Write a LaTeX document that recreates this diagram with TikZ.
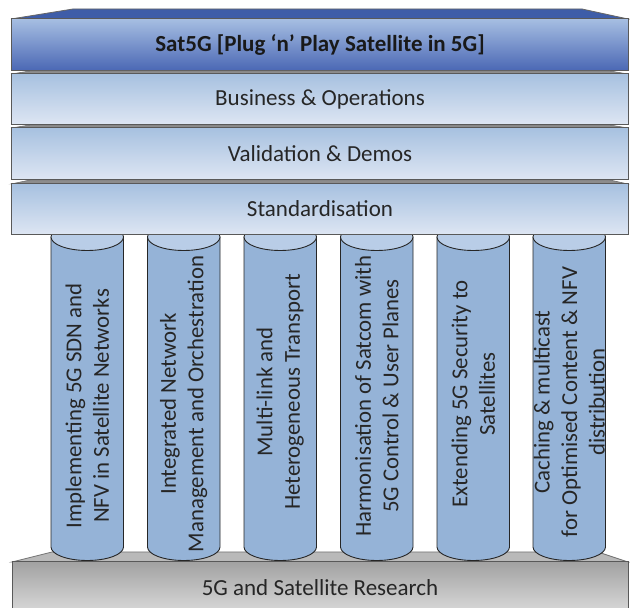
\documentclass[tikz,border=0pt]{standalone}
\usepackage{fontspec}
\setmainfont{Carlito}
\definecolor{hdTop}{HTML}{A6BEE2}
\definecolor{hdBot}{HTML}{4A67B4}
\definecolor{hdRoof}{HTML}{3E5DA8}
\definecolor{lyTop}{HTML}{A7C1E0}
\definecolor{lyBot}{HTML}{DEE6F3}
\definecolor{pilFill}{HTML}{95B3D7}
\definecolor{pilTop}{HTML}{B9CDE7}
\definecolor{bsTop}{HTML}{A2A2A2}
\definecolor{bsBot}{HTML}{DADADA}
\definecolor{bsRoof}{HTML}{B9B9B9}
\definecolor{txt}{HTML}{262626}
\begin{document}
\begin{tikzpicture}[x=1pt,y=1pt,
  edge/.style={draw=black!65,line width=1pt},
  layerbox/.style={edge,top color=lyTop,bottom color=lyBot},
  strip/.style={fill=black!45,draw=black!60,line width=0.5pt},
  boxtext/.style={font=\fontsize{23}{27}\selectfont,text=txt},
  piltext/.style={font=\fontsize{22.8}{27.5}\selectfont,text=txt,rotate=90,align=center},
  pilbody/.style={fill=pilFill},
  pilline/.style={draw=black!85,line width=0.9pt}]
\useasboundingbox (0,0) rectangle (630,608);
\clip (0,0) rectangle (630,608);
% base
\filldraw[fill=bsRoof,draw=black!55,line width=0.8pt] (12,46) -- (52,56) -- (598,56) -- (628,46) -- cycle;
\path[edge,top color=bsTop,bottom color=bsBot] (12,-5) rectangle (628,46);
\node[boxtext] (base) at (320,20) {5G and Satellite Research};
% pillars
\foreach \L/\n/\ty in {51/p1/202,147.5/p2/204,244/p3/216,340.5/p4/212,437/p5/214,533/p6/206}{
  \pgfmathsetmacro{\R}{\L+72.5}
  \pgfmathsetmacro{\C}{\L+36.25}
  \fill[pilbody] (\L,371) -- (\L,61) arc[start angle=180,end angle=360,x radius=36.25,y radius=13.5] -- (\R,371) -- cycle;
  \draw[pilline] (\L,371) -- (\L,61) arc[start angle=180,end angle=360,x radius=36.25,y radius=13.5] -- (\R,371);
  \filldraw[fill=pilTop,draw=black!85,line width=0.9pt] (\C,371) ellipse[x radius=36.25,y radius=13.5];
  \coordinate (\n) at (\C,\ty);
}
\node[piltext] (t1) at (p1) {Implementing 5G SDN and\\NFV in Satellite Networks};
\node[piltext] (t2) at (p2) {Integrated Network\\Management and Orchestration};
\node[piltext] (t3) at (p3) {Multi-link and\\Heterogeneous Transport};
\node[piltext] (t4) at (p4) {Harmonisation of Satcom with\\5G Control \& User Planes};
\node[piltext] (t5) at (p5) {Extending 5G Security to\\Satellites};
\node[piltext] (t6) at (p6) {Caching \& multicast\\for Optimised Content \& NFV\\distribution};
% top header
\filldraw[fill=hdRoof,draw=black!60,line width=0.8pt] (11,589) -- (73,599) -- (582,599) -- (628,589) -- cycle;
\path[edge,top color=hdTop,bottom color=hdBot] (11,537) rectangle (628,589);
\node[boxtext,font=\fontsize{23}{27}\selectfont\bfseries,text=black!90] (head) at (320,563) {Sat5G [Plug ‘n’ Play Satellite in 5G]};
% strips
\path[strip] (11,534) -- (30,537) -- (610,537) -- (628,534) -- cycle;
\path[strip] (11,480) -- (30,483) -- (610,483) -- (628,480) -- cycle;
\path[strip] (11,424) -- (30,428) -- (610,428) -- (628,424) -- cycle;
% layers
\path[layerbox] (11,483) rectangle (628,534);
\node[boxtext] (bus) at (320,509) {Business \& Operations};
\path[layerbox] (11,428) rectangle (628,480);
\node[boxtext] (val) at (320,454) {Validation \& Demos};
\path[layerbox] (11,373) rectangle (628,424);
\node[boxtext] (std) at (320,399) {Standardisation};
\end{tikzpicture}
\end{document}
